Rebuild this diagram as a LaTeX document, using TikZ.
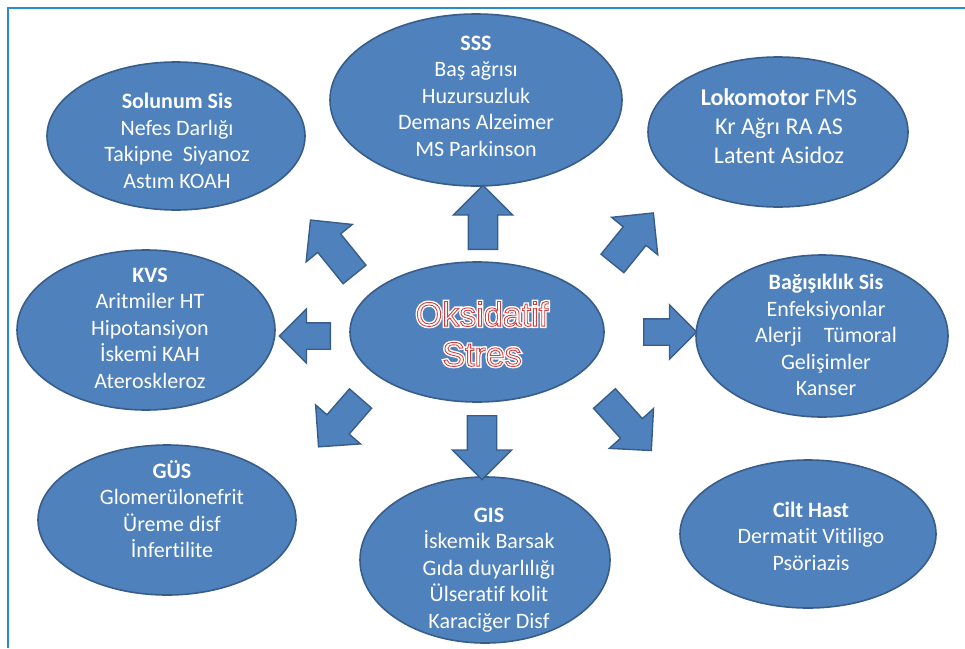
\documentclass[tikz,border=0pt]{standalone}
\usepackage{fontspec}
\setmainfont[Ligatures=NoCommon]{Carlito}
\newfontfamily\arialout[FakeBold=2.5]{Liberation Sans}
\newfontfamily\arialglow[FakeBold=11]{Liberation Sans}
\usetikzlibrary{shapes.geometric,shapes.arrows}
\definecolor{shapefill}{RGB}{79,129,189}
\definecolor{shapeline}{RGB}{56,93,138}
\definecolor{framecol}{RGB}{40,140,210}
\definecolor{outred}{RGB}{212,58,58}
\newcommand\outlined[1]{\rlap{\arialglow\color{white}#1}{\arialout\color{white}\special{pdf:code 0.83 0.23 0.23 RG}#1}}
\tikzset{
  ell/.style={ellipse, draw=shapeline, fill=shapefill, line width=1.6pt, inner sep=0pt},
  txt/.style={text=white, align=center, font=\fontsize{22}{26.5}\selectfont},
  arr/.style={single arrow, draw=shapeline, fill=shapefill, line width=1.4pt,
    inner xsep=0pt, inner ysep=14pt, single arrow head extend=15pt,
    single arrow tip angle=90, anchor=tail},
  arrsmall/.style={arr, inner ysep=12.5pt, single arrow head extend=14pt}
}
\begin{document}
\begin{tikzpicture}[x=1pt,y=-1pt]
\useasboundingbox (0,0) rectangle (965,648);
\draw[framecol, line width=1.5pt] (8,648) -- (8,8) -- (965,8);

% ellipses
\node[ell, minimum width=292pt, minimum height=172pt] (sss) at (476,100) {};
\node[ell, minimum width=258pt, minimum height=148pt] (sol) at (176,136) {};
\node[ell, minimum width=260pt, minimum height=150pt] (lok) at (778,132) {};
\node[ell, minimum width=258pt, minimum height=160pt] (kvs) at (146,330) {};
\node[ell, minimum width=254pt, minimum height=140pt] (oks) at (477,332) {};
\node[ell, minimum width=252pt, minimum height=162pt] (bag) at (822,336) {};
\node[ell, minimum width=258pt, minimum height=150pt] (gus) at (167,520) {};
\node[ell, minimum width=250pt, minimum height=166pt] (gis) at (485,560) {};
\node[ell, minimum width=256pt, minimum height=148pt] (cilt) at (808,534) {};

% texts
\node[txt] (tsss) at (476,96) {\textbf{SSS}\\Baş ağrısı\\Huzursuzluk\\Demans Alzeimer\\MS Parkinson};
\node[txt] (tsol) at (177,141) {\textbf{Solunum Sis}\\Nefes Darlığı\\Takipne\ \ Siyanoz\\Astım KOAH};
\node[txt, font=\fontsize{24}{29}\selectfont] (tlok) at (779,126) {\textbf{Lokomotor} FMS\\Kr Ağrı RA AS\\Latent Asidoz};
\node[txt] (tkvs) at (150,328) {\textbf{KVS}\\Aritmiler HT\\Hipotansiyon\\İskemi KAH\\Ateroskleroz};
\node[txt] (tbag) at (826,335) {\textbf{Bağışıklık Sis}\\Enfeksiyonlar\\Alerji\quad Tümoral\\Gelişimler\\Kanser};
\node[txt] (tgus) at (172,509) {\textbf{GÜS}\\Glomerülonefrit\\Üreme disf\\İnfertilite};
\node[txt] (tgis) at (489,570) {\textbf{GIS}\\İskemik Barsak\\Gıda duyarlılığı\\Ülseratif kolit\\Karaciğer Disf};
\node[txt] (tcilt) at (811,536) {\textbf{Cilt Hast}\\Dermatit Vitiligo\\Psöriazis};
\node[align=center, font=\fontsize{34}{40}\selectfont] (toks) at (482,334) {\outlined{Oksidatif}\\\outlined{Stres}};

% block arrows
\node[arr, rotate=90, minimum height=64pt] (aup) at (483,250) {};
\node[arr, rotate=51, minimum height=65pt] (ane) at (612,264) {};
\node[arr, rotate=129, minimum height=70pt] (anw) at (355,275) {};
\node[arrsmall, rotate=180, minimum height=51pt] (aw) at (331,336) {};
\node[arr, rotate=229, minimum height=64pt] (asw) at (361,398) {};
\node[arr, rotate=270, minimum height=64pt] (adown) at (482,415) {};
\node[arr, rotate=-48, minimum height=70pt] (ase) at (604,398) {};
\node[arrsmall, rotate=0, minimum height=53pt] (ae) at (643,332) {};
\end{tikzpicture}
\end{document}
